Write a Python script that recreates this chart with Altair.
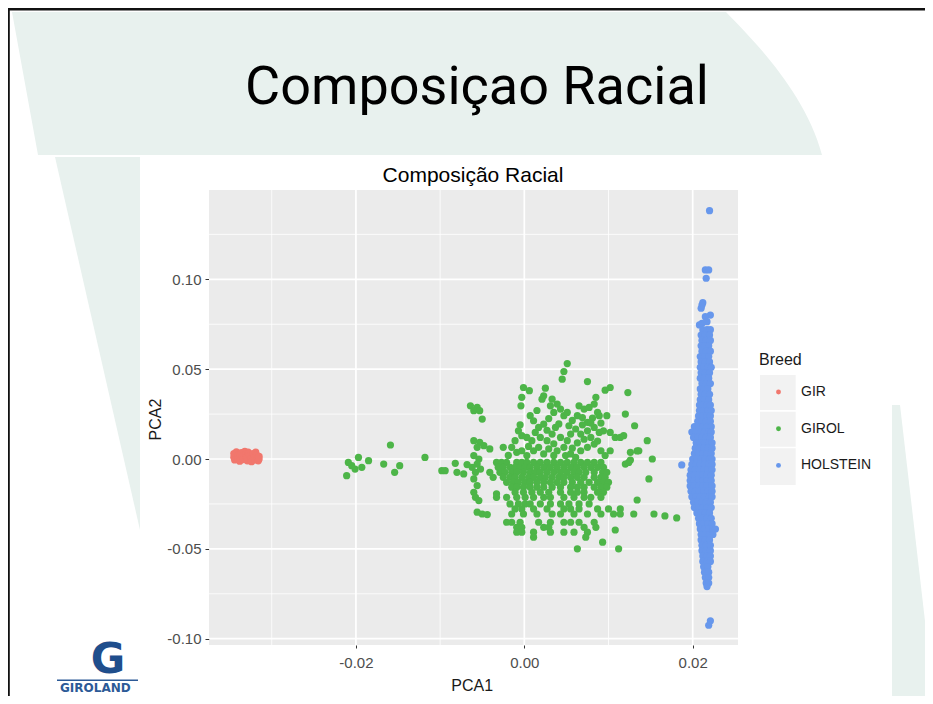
import altair as alt
import pandas as pd

# ---------------- data ----------------
BREEDS = ["GIR", "GIROL", "HOLSTEIN"]
BREED_COLORS = ["#F1776D", "#4DB548", "#6797EC"]

X_MAJOR = [-0.02, 0.0, 0.02]
X_MINOR = [-0.03, -0.01, 0.01]
Y_MAJOR = [-0.10, -0.05, 0.0, 0.05, 0.10]
Y_MINOR = [-0.075, -0.025, 0.025, 0.075, 0.125]
X_DOMAIN = [-0.03745, 0.02538]
Y_DOMAIN = [-0.1035, 0.1497]

GIR = [
    (-0.0345, 0.0030), (-0.0345, 0.0010), (-0.0344, -0.0005), (-0.0342, 0.0040),
    (-0.0340, 0.0020), (-0.0340, 0.0000), (-0.0338, -0.0012), (-0.0338, 0.0028),
    (-0.0336, 0.0036), (-0.0335, 0.0015), (-0.0334, -0.0003), (-0.0332, 0.0042),
    (-0.0331, 0.0025), (-0.0330, 0.0008), (-0.0329, -0.0010), (-0.0328, 0.0038),
    (-0.0327, 0.0032), (-0.0326, 0.0016), (-0.0325, 0.0000), (-0.0324, -0.0015),
    (-0.0322, 0.0030), (-0.0321, 0.0012), (-0.0320, -0.0005), (-0.0319, 0.0038),
    (-0.0318, 0.0022), (-0.0317, 0.0005), (-0.0316, -0.0010), (-0.0315, 0.0015),
    (-0.0315, 0.0000),
]

# scattered GIROL animals
GIROL_SCATTER = [
    # far-left tail
    (-0.0209, -0.0019), (-0.0211, -0.0093), (-0.0205, -0.0037), (-0.0197, 0.0009),
    (-0.0201, -0.0056), (-0.0193, -0.0046), (-0.0185, -0.0009), (-0.0167, -0.0028),
    (-0.0159, 0.0078), (-0.0154, -0.0074), (-0.0148, -0.0037), (-0.0118, 0.0009),
    (-0.0098, -0.0065), (-0.0094, -0.0065), (-0.0082, -0.0024), (-0.0080, -0.0074),
    (-0.0072, -0.0083), (-0.0068, -0.0031),
    # column near PCA1 = -0.005
    (-0.0064, 0.0296), (-0.0056, 0.0287), (-0.0060, 0.0269), (-0.0053, 0.0269),
    (-0.0050, 0.0222), (-0.0060, 0.0102), (-0.0053, 0.0093), (-0.0056, 0.0065),
    (-0.0048, 0.0074), (-0.0041, 0.0056), (-0.0060, 0.0019), (-0.0054, 0.0000),
    (-0.0056, -0.0028), (-0.0062, -0.0046), (-0.0052, -0.0056), (-0.0058, -0.0074),
    (-0.0060, -0.0111), (-0.0056, -0.0148), (-0.0060, -0.0185), (-0.0058, -0.0213),
    (-0.0054, -0.0231), (-0.0056, -0.0296), (-0.0050, -0.0306), (-0.0044, -0.0309),
    (-0.0037, -0.0102), (-0.0041, -0.0074), (-0.0033, -0.0194),
    # upper part of the cloud
    (0.0051, 0.0531), (0.0047, 0.0487), (0.0045, 0.0444), (0.0075, 0.0431),
    (-0.0001, 0.0398), (0.0006, 0.0380), (-0.0003, 0.0343), (-0.0004, 0.0296),
    (0.0025, 0.0394), (0.0023, 0.0352), (0.0021, 0.0333), (0.0096, 0.0383),
    (0.0102, 0.0398), (0.0123, 0.0370),
    (0.0033, 0.0333), (0.0039, 0.0306), (0.0043, 0.0278), (0.0047, 0.0241),
    (0.0051, 0.0259), (0.0031, 0.0296), (0.0035, 0.0259),
    (0.0065, 0.0296), (0.0071, 0.0278), (0.0077, 0.0287), (0.0083, 0.0306),
    (0.0087, 0.0259), (0.0085, 0.0343), (0.0063, 0.0241), (0.0069, 0.0231),
    (0.0075, 0.0204), (0.0081, 0.0228), (0.0089, 0.0241), (0.0098, 0.0241),
    (0.0120, 0.0250), (0.0131, 0.0185),
    (0.0007, 0.0241), (0.0011, 0.0213), (0.0017, 0.0176), (0.0023, 0.0194),
    (0.0013, 0.0148), (0.0009, 0.0102), (0.0003, 0.0120), (0.0019, 0.0120),
    (0.0027, 0.0102), (0.0033, 0.0139), (0.0037, 0.0176), (0.0043, 0.0120),
    (0.0047, 0.0065), (0.0051, 0.0102), (0.0055, 0.0139), (0.0061, 0.0167),
    (0.0067, 0.0139), (0.0075, 0.0157), (0.0083, 0.0176), (0.0089, 0.0148),
    (0.0094, 0.0157), (0.0102, 0.0148), (0.0108, 0.0120), (0.0114, 0.0120),
    (0.0118, 0.0130), (0.0126, 0.0037), (0.0136, 0.0046), (0.0146, 0.0102),
    (0.0152, 0.0000),
    (-0.0007, 0.0157), (-0.0003, 0.0130), (-0.0011, 0.0102), (-0.0015, 0.0065),
    (-0.0009, 0.0037), (-0.0003, 0.0046), (0.0003, 0.0019), (0.0011, 0.0046),
    (0.0017, 0.0065), (0.0023, 0.0028), (0.0029, 0.0056), (0.0039, 0.0046),
    (0.0049, 0.0019), (0.0055, 0.0028), (0.0061, 0.0009), (0.0067, 0.0046),
    (0.0075, 0.0065), (0.0083, 0.0083), (0.0091, 0.0046), (0.0096, 0.0019),
    (0.0102, 0.0046),
    # extra density in the upper core
    (-0.0025, 0.0065), (0.0005, 0.0070), (0.0035, 0.0085), (0.0057, 0.0060),
    (0.0063, 0.0090), (0.0071, 0.0110), (0.0079, 0.0120), (0.0087, 0.0100),
    (-0.0005, 0.0190), (0.0027, 0.0160), (0.0041, 0.0195), (0.0053, 0.0185),
    (0.0069, 0.0190), (0.0079, 0.0200), (0.0091, 0.0200), (0.0015, 0.0270),
    (0.0057, 0.0215), (0.0029, 0.0225), (-0.0019, 0.0020), (0.0035, 0.0020),
    # right side stragglers
    (0.0120, -0.0028), (0.0124, -0.0019), (0.0148, -0.0111), (0.0134, 0.0045),
    (0.0126, -0.0006), (0.0134, -0.0228), (0.0114, -0.0278), (0.0167, -0.0317),
    (0.0181, -0.0328), (0.0108, -0.0395),
]

# dense core of the GIROL cloud: (PCA2, [PCA1 values along that row])
GIROL_ROWS = [
    (-0.0019, [-0.0033, -0.0027, -0.0021, -0.0009, -0.0003, 0.0003, 0.0011, 0.0019, 0.0027,
               0.0035, 0.0043, 0.0051, 0.0059, 0.0067, 0.0075, 0.0083, 0.0091]),
    (-0.0046, [-0.0031, -0.0025, -0.0017, -0.0011, -0.0005, 0.0001, 0.0007, 0.0015, 0.0023,
               0.0031, 0.0039, 0.0047, 0.0055, 0.0063, 0.0071, 0.0079, 0.0087, 0.0094]),
    (-0.0074, [-0.0029, -0.0023, -0.0015, -0.0009, -0.0001, 0.0007, 0.0013, 0.0019, 0.0027,
               0.0035, 0.0043, 0.0051, 0.0059, 0.0065, 0.0073, 0.0083, 0.0093, 0.0098]),
    (-0.0102, [-0.0025, -0.0017, -0.0011, -0.0003, 0.0005, 0.0011, 0.0019, 0.0025, 0.0033,
               0.0041, 0.0047, 0.0055, 0.0063, 0.0071, 0.0083, 0.0091, 0.0096]),
    (-0.0130, [-0.0021, -0.0013, -0.0007, 0.0001, 0.0007, 0.0015, 0.0023, 0.0031, 0.0039,
               0.0047, 0.0057, 0.0067, 0.0077, 0.0087, 0.0094, 0.0100]),
    (-0.0157, [-0.0015, -0.0009, -0.0001, 0.0007, 0.0015, 0.0023, 0.0033, 0.0043, 0.0055,
               0.0063, 0.0071, 0.0083, 0.0091, 0.0098]),
    (-0.0185, [-0.0011, -0.0001, 0.0009, 0.0019, 0.0029, 0.0043, 0.0055, 0.0063, 0.0071,
               0.0087, 0.0094]),
    (-0.0213, [-0.0033, -0.0021, -0.0009, 0.0001, 0.0011, 0.0023, 0.0031, 0.0047, 0.0059,
               0.0071, 0.0079, 0.0091]),
    (-0.0250, [-0.0017, -0.0007, 0.0001, 0.0007, 0.0019, 0.0031, 0.0043, 0.0053, 0.0065,
               0.0077]),
    (-0.0278, [-0.0011, -0.0003, 0.0011, 0.0027, 0.0047, 0.0055, 0.0065, 0.0087, 0.0100]),
    (-0.0306, [-0.0015, -0.0001, 0.0015, 0.0033, 0.0043, 0.0059, 0.0075, 0.0091, 0.0106,
               0.0114, 0.0130, 0.0154]),
    (-0.0352, [-0.0021, -0.0015, -0.0005, 0.0017, 0.0031, 0.0047, 0.0055, 0.0065, 0.0083]),
    (-0.0380, [-0.0009, -0.0003, 0.0023, 0.0029, 0.0071, 0.0085]),
    (-0.0407, [-0.0009, -0.0003, 0.0011, 0.0031, 0.0047, 0.0059, 0.0075]),
    (-0.0435, [0.0011, 0.0073]),
    (-0.0463, [0.0093]),
    (-0.0500, [0.0063, 0.0112]),
]

HOLSTEIN_SCATTER = [
    (0.0220, 0.1382), (0.0215, 0.1052), (0.0219, 0.1052), (0.0216, 0.1006),
    (0.0211, 0.0857), (0.0210, 0.0839), (0.0212, 0.0870), (0.0221, 0.0801),
    (0.0215, 0.0792), (0.0211, 0.0755), (0.0208, 0.0746), (0.0217, 0.0764),
    (0.0187, -0.0033), (0.0221, -0.0900), (0.0219, -0.0925),
]

# dense HOLSTEIN column: (PCA2, [PCA1 values along that row])
HOLSTEIN_ROWS = [
    (0.072, [0.0212, 0.0217, 0.0221]),
    (0.069, [0.0210, 0.0215, 0.0220]),
    (0.066, [0.0211, 0.0216, 0.0221]),
    (0.063, [0.0210, 0.0214, 0.0219]),
    (0.060, [0.0211, 0.0216, 0.0221]),
    (0.057, [0.0209, 0.0214, 0.0219]),
    (0.054, [0.0210, 0.0215, 0.0220]),
    (0.051, [0.0209, 0.0213, 0.0218, 0.0222]),
    (0.048, [0.0210, 0.0215, 0.0220]),
    (0.045, [0.0209, 0.0214, 0.0219]),
    (0.042, [0.0211, 0.0216, 0.0221]),
    (0.039, [0.0209, 0.0213, 0.0218]),
    (0.036, [0.0210, 0.0215, 0.0220]),
    (0.033, [0.0209, 0.0214, 0.0219]),
    (0.030, [0.0208, 0.0212, 0.0217, 0.0221]),
    (0.027, [0.0208, 0.0213, 0.0218, 0.0222]),
    (0.024, [0.0207, 0.0212, 0.0217, 0.0221]),
    (0.021, [0.0206, 0.0211, 0.0216, 0.0221]),
    (0.018, [0.0202, 0.0207, 0.0212, 0.0217, 0.0222]),
    (0.015, [0.0199, 0.0204, 0.0209, 0.0214, 0.0219, 0.0222]),
    (0.012, [0.0201, 0.0206, 0.0211, 0.0216, 0.0221]),
    (0.009, [0.0204, 0.0209, 0.0214, 0.0219, 0.0223]),
    (0.006, [0.0203, 0.0208, 0.0213, 0.0218, 0.0223]),
    (0.003, [0.0202, 0.0207, 0.0212, 0.0217, 0.0222]),
    (0.000, [0.0200, 0.0205, 0.0210, 0.0215, 0.0220, 0.0223]),
    (-0.003, [0.0199, 0.0204, 0.0209, 0.0214, 0.0219, 0.0223]),
    (-0.006, [0.0198, 0.0203, 0.0208, 0.0213, 0.0218, 0.0223]),
    (-0.009, [0.0197, 0.0202, 0.0207, 0.0212, 0.0217, 0.0222]),
    (-0.012, [0.0197, 0.0202, 0.0207, 0.0212, 0.0217, 0.0222]),
    (-0.015, [0.0197, 0.0202, 0.0207, 0.0212, 0.0217, 0.0223]),
    (-0.018, [0.0198, 0.0203, 0.0208, 0.0213, 0.0218, 0.0223]),
    (-0.021, [0.0199, 0.0204, 0.0209, 0.0214, 0.0219, 0.0223]),
    (-0.024, [0.0201, 0.0206, 0.0211, 0.0216, 0.0221]),
    (-0.027, [0.0202, 0.0207, 0.0212, 0.0217, 0.0222]),
    (-0.030, [0.0205, 0.0210, 0.0215, 0.0220]),
    (-0.033, [0.0207, 0.0212, 0.0217, 0.0222]),
    (-0.036, [0.0208, 0.0213, 0.0218, 0.0223]),
    (-0.039, [0.0209, 0.0214, 0.0219, 0.0224, 0.0227]),
    (-0.042, [0.0210, 0.0215, 0.0220, 0.0224]),
    (-0.045, [0.0210, 0.0215, 0.0220]),
    (-0.048, [0.0211, 0.0216, 0.0221]),
    (-0.051, [0.0211, 0.0216, 0.0221]),
    (-0.054, [0.0212, 0.0217, 0.0221]),
    (-0.057, [0.0212, 0.0217, 0.0221]),
    (-0.060, [0.0213, 0.0218]),
    (-0.063, [0.0214, 0.0219]),
    (-0.066, [0.0215, 0.0219]),
    (-0.069, [0.0216, 0.0219]),
    (-0.071, [0.0217]),
]

# ---------------- build the table ----------------
records = []
for x, y in GIR:
    records.append({"PCA1": x, "PCA2": y, "Breed": "GIR"})
for x, y in GIROL_SCATTER:
    records.append({"PCA1": x, "PCA2": y, "Breed": "GIROL"})
for y, xs in GIROL_ROWS:
    for x in xs:
        records.append({"PCA1": x, "PCA2": y, "Breed": "GIROL"})
for x, y in HOLSTEIN_SCATTER:
    records.append({"PCA1": x, "PCA2": y, "Breed": "HOLSTEIN"})
for y, xs in HOLSTEIN_ROWS:
    for x in xs:
        records.append({"PCA1": x, "PCA2": y, "Breed": "HOLSTEIN"})
points_df = pd.DataFrame(records)

# ---------------- layout ----------------
OX, OY = 209, 190          # page position of the plot panel
W, H = 529, 455
FONT = "Liberation Sans"
MINT = "#E8F1EE"


def px(ax):
    return ax - OX


def py(ay):
    return ay - OY


def one():
    return alt.Data(values=[{"k": 1}])


def rect(x1, y1, x2, y2, color):
    return alt.Chart(one()).mark_rect(color=color, opacity=1).encode(
        x=alt.value(px(x1)), x2=alt.value(px(x2)),
        y=alt.value(py(y1)), y2=alt.value(py(y2)))


def shape(path, color):
    return alt.Chart(one()).mark_point(
        shape=path, filled=True, size=4, color=color, opacity=1, strokeWidth=0
    ).encode(x=alt.value(0), y=alt.value(0))


def poly_path(pts):
    return "M " + " L ".join(f"{px(a)},{py(b)}" for a, b in pts) + " Z"


def text(s, ax, ay, size, font, color, weight="normal", align="center", baseline="alphabetic"):
    return alt.Chart(one()).mark_text(
        text=s, font=font, fontSize=size, color=color, fontWeight=weight,
        align=align, baseline=baseline
    ).encode(x=alt.value(px(ax)), y=alt.value(py(ay)))


band_path = (f"M {px(12)},{py(12)} L {px(726)},{py(12)} "
             f"C {px(748)},{py(35)} {px(805)},{py(90)} {px(822)},{py(155)} "
             f"L {px(38)},{py(155)} Z")

decor = [
    shape(band_path, MINT),
    shape(poly_path([(55, 157), (140, 157), (140, 530)]), MINT),
    shape(poly_path([(892, 405), (900, 405), (933, 690), (933, 704), (892, 704)]), MINT),
    rect(8, 8, 933, 10.5, "#111111"),
    rect(8, 8, 9.8, 704, "#111111"),
    text("Composiçao Racial", 477, 104, 54, "Roboto", "#000000"),
    text("Composição Racial", 473, 181.5, 21, FONT, "#000000"),
    text("G", 108, 673, 42, "DejaVu Sans", "#1F4E8C", weight="bold"),
    rect(57, 679.5, 138, 681, "#2C5A97"),
    text("GIROLAND", 60, 692, 12, "DejaVu Sans", "#2C5A97", weight="bold", align="left"),
    rect(760, 375, 795.7, 410, "#F2F2F2"),
    rect(760, 411.7, 795.7, 446.7, "#F2F2F2"),
    rect(760, 448.3, 795.7, 485, "#F2F2F2"),
]

XS = alt.Scale(domain=X_DOMAIN, nice=False, zero=False)
YS = alt.Scale(domain=Y_DOMAIN, nice=False, zero=False)

LABEL_EXPR = "replace(format(datum.value, '.2f'), '\u2212', '-')"

XA = alt.Axis(
    values=X_MAJOR, labelExpr=LABEL_EXPR, grid=False, domain=False,
    labelFont=FONT, labelFontSize=15, labelColor="#4D4D4D", labelPadding=7,
    tickSize=3, tickColor="#333333", tickWidth=1,
    title="PCA1", titleFont=FONT, titleFontSize=16, titleFontWeight="normal",
    titleColor="#1A1A1A", titleX=262.7, titleY=40, titleBaseline="middle",
)
YA = alt.Axis(
    values=Y_MAJOR, labelExpr=LABEL_EXPR, grid=False, domain=False,
    labelFont=FONT, labelFontSize=15, labelColor="#4D4D4D", labelPadding=4,
    tickSize=4, tickColor="#333333", tickWidth=1,
    title="PCA2", titleFont=FONT, titleFontSize=16, titleFontWeight="normal",
    titleColor="#1A1A1A", titleX=-54, titleY=229, titleBaseline="middle", titleAngle=270,
)

grid_layers = [
    alt.Chart(pd.DataFrame({"PCA1": X_MINOR})).mark_rule(color="white", strokeWidth=0.8)
    .encode(x=alt.X("PCA1:Q", scale=XS, axis=XA)),
    alt.Chart(pd.DataFrame({"PCA2": Y_MINOR})).mark_rule(color="white", strokeWidth=0.8)
    .encode(y=alt.Y("PCA2:Q", scale=YS, axis=YA)),
    alt.Chart(pd.DataFrame({"PCA1": X_MAJOR})).mark_rule(color="white", strokeWidth=1.7)
    .encode(x=alt.X("PCA1:Q", scale=XS, axis=XA)),
    alt.Chart(pd.DataFrame({"PCA2": Y_MAJOR})).mark_rule(color="white", strokeWidth=1.7)
    .encode(y=alt.Y("PCA2:Q", scale=YS, axis=YA)),
]

LEG = alt.Legend(
    title="Breed", orient="none", legendX=550, legendY=162, direction="vertical",
    titleFont=FONT, titleFontSize=16, titleFontWeight="normal", titleColor="#1A1A1A",
    labelFont=FONT, labelFontSize=14, labelColor="#1A1A1A",
    symbolType="circle", symbolSize=24, symbolOpacity=1, symbolStrokeWidth=0,
    rowPadding=22.7, titlePadding=17, labelOffset=15.5, symbolOffset=12.5,
    padding=0, zindex=1,
)

points = alt.Chart(points_df).mark_circle(size=52, opacity=1).encode(
    x=alt.X("PCA1:Q", scale=XS, axis=XA),
    y=alt.Y("PCA2:Q", scale=YS, axis=YA),
    color=alt.Color("Breed:N", scale=alt.Scale(domain=BREEDS, range=BREED_COLORS), legend=LEG),
)

chart = alt.layer(*decor, *grid_layers, points).properties(
    width=W, height=H,
    padding={"left": OX - 8, "top": OY - 8, "right": 925 - (OX + W), "bottom": 696 - (OY + H)},
    autosize=alt.AutoSizeParams(type="none"),
    background="white",
).configure_view(fill="#EBEBEB", stroke=None)

chart.save("out.html", embed_options={"renderer": "svg", "actions": False})
